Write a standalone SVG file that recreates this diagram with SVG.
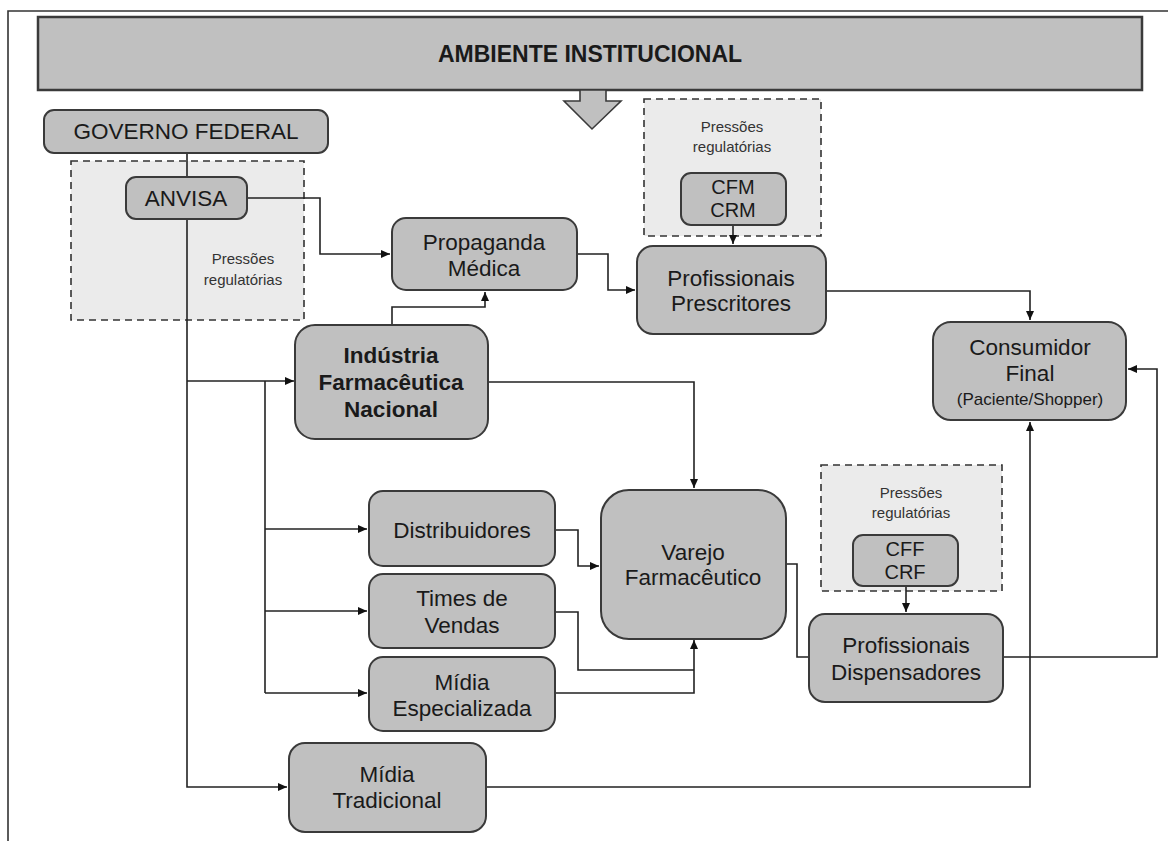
<svg xmlns="http://www.w3.org/2000/svg" width="1168" height="841" viewBox="0 0 1168 841">
<defs>
<style>
.node{fill:#c0c0c0;stroke:#3a3a3a;stroke-width:2}
.dash{fill:#ebebeb;stroke:#333;stroke-width:1.6;stroke-dasharray:7 5}
.lbl{font-family:"Liberation Sans",Arial,sans-serif;font-size:22.5px;fill:#1a1a1a;text-anchor:middle}
.b{font-weight:bold}
.sm{font-family:"Liberation Sans",Arial,sans-serif;font-size:15px;fill:#333;text-anchor:middle}
.c{fill:none;stroke:#222;stroke-width:1.6}
</style>
<marker id="ar" markerWidth="10" markerHeight="10" refX="9" refY="5" orient="auto" markerUnits="userSpaceOnUse">
<path d="M0,1 L9,5 L0,9 Z" fill="#111"/>
</marker>
</defs>
<rect width="1168" height="841" fill="#fff"/>
<g id="frame">
<path d="M8,841 V11 H1168" fill="none" stroke="#333" stroke-width="1.6"/>
</g>
<g id="banner">
<rect x="38" y="17" width="1104" height="73" fill="#c0c0c0" stroke="#3a3a3a" stroke-width="2.5"/>
<text x="590" y="62" class="lbl b" style="font-size:23px">AMBIENTE INSTITUCIONAL</text>
<polygon points="580,90 580,101 564,101 592,129 621,101 606,101 606,90" fill="#c0c0c0" stroke="#3a3a3a" stroke-width="1.6"/>
</g>
<g id="reg-anvisa">
<rect x="71" y="161" width="233" height="159" class="dash"/>
<text x="243" y="264" class="sm">Pressões</text>
<text x="243" y="285" class="sm">regulatórias</text>
</g>
<g id="reg-cfm">
<rect x="644" y="99" width="177" height="137" class="dash"/>
<text x="732" y="132" class="sm">Pressões</text>
<text x="732" y="152" class="sm">regulatórias</text>
</g>
<g id="reg-cff">
<rect x="821" y="465" width="181" height="126" class="dash"/>
<text x="911" y="498" class="sm">Pressões</text>
<text x="911" y="518" class="sm">regulatórias</text>
</g>
<g id="connectors">
<path class="c" d="M187,153 V177"/>
<path class="c" d="M187,219 V787 H287" marker-end="url(#ar)"/>
<path class="c" d="M187,381 H294" marker-end="url(#ar)"/>
<path class="c" d="M265,381 V693"/>
<path class="c" d="M265,529 H367" marker-end="url(#ar)"/>
<path class="c" d="M265,611 H367" marker-end="url(#ar)"/>
<path class="c" d="M265,693 H367" marker-end="url(#ar)"/>
<path class="c" d="M247,198 H320 V254 H390" marker-end="url(#ar)"/>
<path class="c" d="M392,325 V307 H485 V292" marker-end="url(#ar)"/>
<path class="c" d="M577,254 H608 V290 H635" marker-end="url(#ar)"/>
<path class="c" d="M733,225 V244" marker-end="url(#ar)"/>
<path class="c" d="M826,291 H1030 V320" marker-end="url(#ar)"/>
<path class="c" d="M488,382 H694 V488" marker-end="url(#ar)"/>
<path class="c" d="M555,530 H578 V566 H599" marker-end="url(#ar)"/>
<path class="c" d="M555,612 H578 V670 H694"/>
<path class="c" d="M555,693 H694 V640" marker-end="url(#ar)"/>
<path class="c" d="M786,564 H797 V657 H809"/>
<path class="c" d="M906,586 V612" marker-end="url(#ar)"/>
<path class="c" d="M1003,657 H1157 V369 H1128" marker-end="url(#ar)"/>
<path class="c" d="M486,787 H1030 V422" marker-end="url(#ar)"/>
</g>
<g id="governo">
<rect x="44" y="110" width="284" height="43" rx="10" class="node"/>
<text x="186" y="139" class="lbl">GOVERNO FEDERAL</text>
</g>
<g id="anvisa">
<rect x="126" y="177" width="121" height="42" rx="10" class="node"/>
<text x="186" y="206" class="lbl">ANVISA</text>
</g>
<g id="cfm">
<rect x="681" y="173" width="105" height="52" rx="10" class="node"/>
<text x="733" y="194" class="lbl" style="font-size:20px">CFM</text>
<text x="733" y="217" class="lbl" style="font-size:20px">CRM</text>
</g>
<g id="propaganda">
<rect x="392" y="218" width="185" height="72" rx="14" class="node"/>
<text x="484" y="250" class="lbl">Propaganda</text>
<text x="484" y="276" class="lbl">Médica</text>
</g>
<g id="prescritores">
<rect x="637" y="246" width="189" height="88" rx="16" class="node"/>
<text x="731" y="286" class="lbl">Profissionais</text>
<text x="731" y="311" class="lbl">Prescritores</text>
</g>
<g id="consumidor">
<rect x="933" y="322" width="193" height="98" rx="18" class="node"/>
<text x="1030" y="355" class="lbl">Consumidor</text>
<text x="1030" y="381" class="lbl">Final</text>
<text x="1030" y="405" class="lbl" style="font-size:17px">(Paciente/Shopper)</text>
</g>
<g id="industria">
<rect x="295" y="325" width="193" height="114" rx="20" class="node"/>
<text x="391" y="363" class="lbl b">Indústria</text>
<text x="391" y="390" class="lbl b">Farmacêutica</text>
<text x="391" y="417" class="lbl b">Nacional</text>
</g>
<g id="distribuidores">
<rect x="369" y="491" width="186" height="75" rx="14" class="node"/>
<text x="462" y="538" class="lbl">Distribuidores</text>
</g>
<g id="times">
<rect x="369" y="574" width="186" height="74" rx="14" class="node"/>
<text x="462" y="606" class="lbl">Times de</text>
<text x="462" y="633" class="lbl">Vendas</text>
</g>
<g id="midia-esp">
<rect x="369" y="657" width="186" height="74" rx="14" class="node"/>
<text x="462" y="690" class="lbl">Mídia</text>
<text x="462" y="716" class="lbl">Especializada</text>
</g>
<g id="varejo">
<rect x="601" y="490" width="185" height="149" rx="28" class="node"/>
<text x="693" y="560" class="lbl">Varejo</text>
<text x="693" y="585" class="lbl">Farmacêutico</text>
</g>
<g id="cff">
<rect x="853" y="535" width="105" height="51" rx="10" class="node"/>
<text x="905" y="556" class="lbl" style="font-size:20px">CFF</text>
<text x="905" y="579" class="lbl" style="font-size:20px">CRF</text>
</g>
<g id="dispensadores">
<rect x="809" y="614" width="194" height="88" rx="16" class="node"/>
<text x="906" y="653" class="lbl">Profissionais</text>
<text x="906" y="680" class="lbl">Dispensadores</text>
</g>
<g id="midia-trad">
<rect x="289" y="743" width="197" height="89" rx="16" class="node"/>
<text x="387" y="782" class="lbl">Mídia</text>
<text x="387" y="808" class="lbl">Tradicional</text>
</g>
</svg>
